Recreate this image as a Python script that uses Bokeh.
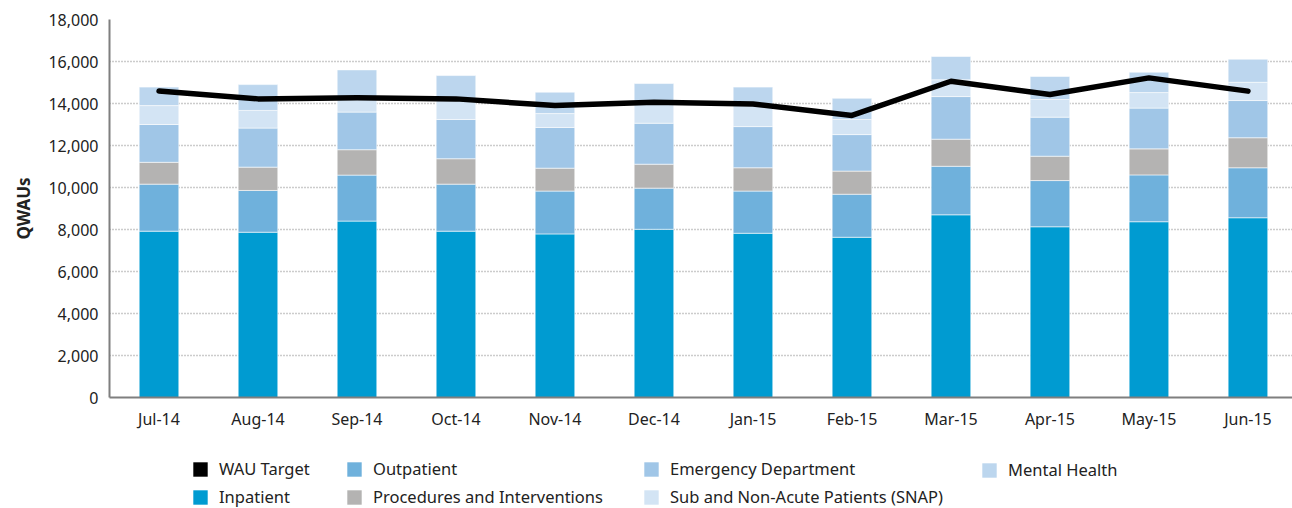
from bokeh.plotting import figure
from bokeh.layouts import column
from bokeh.models import (ColumnDataSource, Range1d, FixedTicker, Legend, LegendItem,
                          NumeralTickFormatter)
from bokeh.embed import file_html
from bokeh.resources import INLINE

months = ["Jul-14", "Aug-14", "Sep-14", "Oct-14", "Nov-14", "Dec-14",
          "Jan-15", "Feb-15", "Mar-15", "Apr-15", "May-15", "Jun-15"]
inpatient = [7920, 7870, 8400, 7920, 7790, 8010, 7820, 7630, 8700, 8130, 8370, 8560]
outpatient = [2240, 1990, 2190, 2240, 2040, 1960, 2010, 2050, 2310, 2200, 2230, 2380]
procedures = [1040, 1110, 1210, 1210, 1090, 1140, 1110, 1100, 1290, 1160, 1240, 1430]
emergency = [1800, 1860, 1790, 1870, 1940, 1950, 1960, 1740, 2030, 1860, 1940, 1770]
snap = [900, 840, 600, 900, 660, 990, 1000, 720, 800, 840, 740, 870]
mental = [880, 1230, 1410, 1190, 1020, 900, 880, 1010, 1110, 1100, 970, 1100]
wau_target = [14590, 14220, 14270, 14220, 13900, 14060, 13980, 13430, 15060, 14430, 15220, 14590]
y_ticks = [0, 2000, 4000, 6000, 8000, 10000, 12000, 14000, 16000, 18000]

series = ["inpatient", "outpatient", "procedures", "emergency", "snap", "mental"]
labels = ["Inpatient", "Outpatient", "Procedures and Interventions",
          "Emergency Department", "Sub and Non-Acute Patients (SNAP)", "Mental Health"]
colors = ["#009bd1", "#6fb1dc", "#b4b3b2", "#a0c6e7", "#d3e4f4", "#bcd6ee"]

idx = list(range(len(months)))
src = ColumnDataSource(dict(x=idx, inpatient=inpatient, outpatient=outpatient,
                            procedures=procedures, emergency=emergency, snap=snap,
                            mental=mental, wau=wau_target))

FONT = "Noto Sans"
TXT = "#222222"
AX = "#7f7f7f"

p = figure(width=1292, height=438, output_backend="svg", toolbar_location=None,
           x_range=Range1d(-0.5, 11.45), y_range=Range1d(0, 18000),
           min_border_left=109, min_border_right=0, min_border_top=19,
           min_border_bottom=41)
p.outline_line_color = None
p.xgrid.grid_line_color = None
p.ygrid.grid_line_color = "#999999"
p.ygrid.grid_line_dash = "1 2"
p.ygrid.grid_line_width = 1.3

renderers = p.vbar_stack(series, x="x", width=0.4, source=src, color=colors,
                         line_color="white", line_width=0.8, line_alpha=0.7)
p.line("x", "wau", source=src, line_color="black", line_width=5.5,
       line_join="round", line_cap="round")

p.yaxis.ticker = FixedTicker(ticks=y_ticks)
p.yaxis.formatter = NumeralTickFormatter(format="0,0")
p.yaxis.axis_label = "QWAUs"
p.yaxis.axis_label_text_font = FONT
p.yaxis.axis_label_text_font_style = "bold"
p.yaxis.axis_label_text_font_size = "17px"
p.yaxis.axis_label_text_color = TXT
p.yaxis.axis_label_standoff = 10
p.yaxis.major_label_text_font = FONT
p.yaxis.major_label_text_font_size = "16px"
p.yaxis.major_label_text_color = TXT
p.yaxis.major_tick_out = 6
p.yaxis.major_tick_in = 0
p.yaxis.major_label_standoff = 5

p.xaxis.ticker = FixedTicker(ticks=idx, minor_ticks=[i - 0.5 for i in range(13)])
p.xaxis.major_label_overrides = {i: m for i, m in enumerate(months)}
p.xaxis.major_tick_out = 0
p.xaxis.minor_tick_out = 5
p.xaxis.minor_tick_in = 0
p.xaxis.major_label_standoff = 5
p.xaxis.major_label_text_font = FONT
p.xaxis.major_label_text_font_size = "16px"
p.xaxis.major_label_text_color = TXT

for ax in (p.xaxis, p.yaxis):
    ax.axis_line_color = AX
    ax.axis_line_width = 2
    ax.major_tick_line_color = AX if ax is p.yaxis else None
    ax.minor_tick_line_color = AX if ax is p.xaxis else None
    ax.major_tick_line_width = 1.5
    ax.minor_tick_line_width = 1.5

# legend strip below the chart
lf = figure(width=1292, height=70, output_backend="svg", toolbar_location=None,
            x_range=Range1d(0, 1), y_range=Range1d(0, 1),
            x_axis_location=None, y_axis_location=None,
            min_border=0)
lf.outline_line_color = None
lf.grid.visible = False

swatch = {}
for name, col in zip(["wau"] + series, ["black"] + colors):
    # zero-size helper glyph, only used to paint the legend swatch
    swatch[name] = lf.vbar(x=[0.0], top=[0.0], bottom=[0.0], width=0.0,
                           fill_color=col, line_color=None)

columns = [
    (82, [("WAU Target", "wau"), ("Inpatient", "inpatient")]),
    (236, [("Outpatient", "outpatient"), ("Procedures and Interventions", "procedures")]),
    (533, [("Emergency Department", "emergency"), ("Sub and Non-Acute Patients (SNAP)", "snap")]),
    (871, [("Mental Health", "mental")]),
]
for xoff, its in columns:
    items = [LegendItem(label=l, renderers=[swatch[k]]) for l, k in its]
    yoff = 0 if len(items) == 2 else 27
    lg = Legend(items=items, location=(xoff, yoff), orientation="vertical",
                glyph_width=18, glyph_height=18, label_height=20, spacing=5,
                label_standoff=10, padding=0, margin=0,
                border_line_color=None, background_fill_alpha=0,
                label_text_font=FONT, label_text_font_size="16.5px",
                label_text_color=TXT)
    lf.add_layout(lg)

open("out.html", "w").write(file_html(column(p, lf, spacing=0), INLINE))
